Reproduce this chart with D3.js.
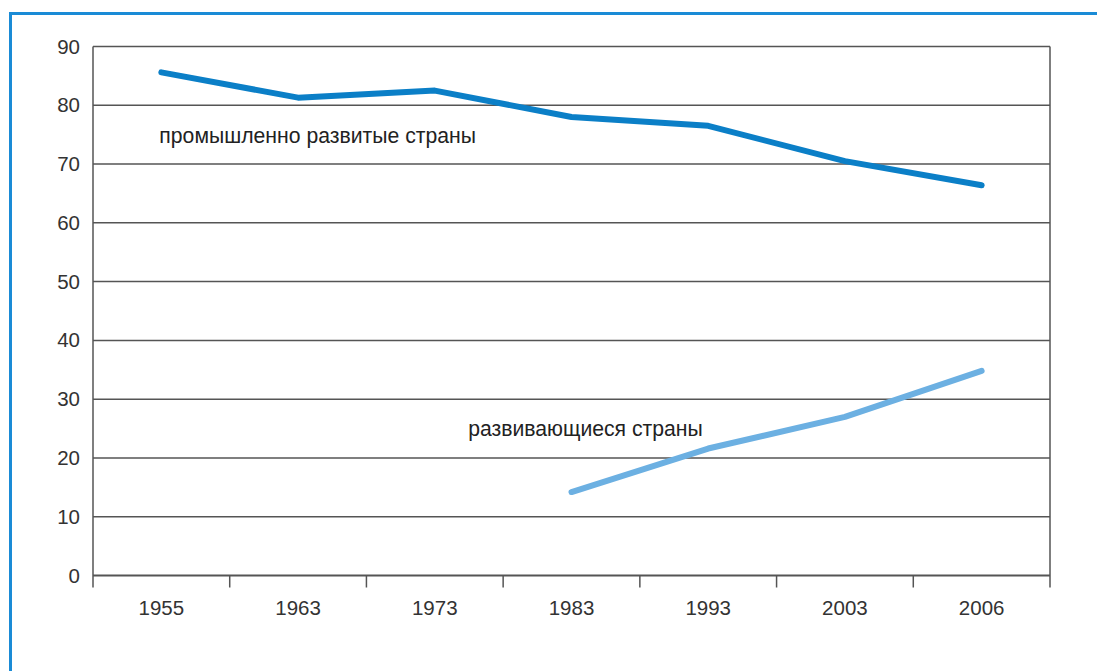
<!DOCTYPE html>
<html>
<head>
<meta charset="utf-8">
<script src="https://cdn.jsdelivr.net/npm/d3@7"></script>
<style>
  body { margin: 0; background: #fff; }
  text { font-family: "Liberation Sans", Arial, sans-serif; }
</style>
</head>
<body>
<script>
// данные
var years = ["1955", "1963", "1973", "1983", "1993", "2003", "2006"];
var developed = [85.6, 81.3, 82.5, 78.0, 76.5, 70.5, 66.4];
var developingYears = ["1983", "1993", "2003", "2006"];
var developing = [14.2, 21.6, 27.0, 34.8];
var yTicks = [0, 10, 20, 30, 40, 50, 60, 70, 80, 90];

var width = 1097, height = 671;
var padding = {left: 93, right: 47, top: 46.5, bottom: 95.5};
var fontSize = 20.5;

var svg = d3.select("body").append("svg")
  .attr("width", width)
  .attr("height", height);

// рамка (открыта справа и снизу)
svg.append("path")
  .attr("d", "M10.5," + height + " V13.5 H" + width)
  .attr("fill", "none")
  .attr("stroke", "#1a8bd6")
  .attr("stroke-width", 3);

var x = d3.scaleBand()
  .domain(years)
  .range([padding.left, width - padding.right]);

var y = d3.scaleLinear()
  .domain([0, 90])
  .range([height - padding.bottom, padding.top]);

var gridColor = "#555";

// горизонтальные линии сетки
svg.append("g").selectAll("line")
  .data(yTicks.filter(function(d){ return d > 0; }))
  .enter().append("line")
  .attr("x1", padding.left)
  .attr("x2", width - padding.right)
  .attr("y1", function(d){ return y(d); })
  .attr("y2", function(d){ return y(d); })
  .attr("stroke", gridColor)
  .attr("stroke-width", 1.5);

// правая граница
svg.append("line")
  .attr("x1", width - padding.right).attr("x2", width - padding.right)
  .attr("y1", y(90)).attr("y2", y(0) + 12)
  .attr("stroke", gridColor).attr("stroke-width", 1.5);

// ось Y
var yAxis = svg.append("g")
  .attr("transform", "translate(" + padding.left + ",0)")
  .call(d3.axisLeft(y).tickValues(yTicks).tickSize(0).tickPadding(13));
yAxis.select(".domain").attr("stroke", gridColor).attr("stroke-width", 1.5)
  .attr("d", "M0," + y(90) + "V" + (y(0) + 12));
yAxis.selectAll("text").attr("font-size", fontSize).attr("fill", "#333")
  .attr("font-family", "Liberation Sans, Arial, sans-serif");

// ось X: деления на границах полос
var xAxis = svg.append("g")
  .attr("transform", "translate(0," + y(0) + ")");
xAxis.append("line")
  .attr("x1", padding.left).attr("x2", width - padding.right)
  .attr("stroke", gridColor).attr("stroke-width", 2);
xAxis.selectAll(".tick")
  .data(years.slice(1))
  .enter().append("line")
  .attr("x1", function(d){ return x(d); })
  .attr("x2", function(d){ return x(d); })
  .attr("y1", 0).attr("y2", 12)
  .attr("stroke", gridColor).attr("stroke-width", 1.5);
xAxis.selectAll(".lbl")
  .data(years)
  .enter().append("text")
  .attr("x", function(d){ return x(d) + x.bandwidth() / 2; })
  .attr("y", 39)
  .attr("text-anchor", "middle")
  .attr("font-size", fontSize)
  .attr("fill", "#333")
  .text(function(d){ return d; });

var line = d3.line()
  .x(function(d){ return x(d[0]) + x.bandwidth() / 2; })
  .y(function(d){ return y(d[1]); });

svg.append("path")
  .datum(d3.zip(years, developed))
  .attr("d", line)
  .attr("fill", "none")
  .attr("stroke", "#0b7fc7")
  .attr("stroke-width", 6)
  .attr("stroke-linecap", "round")
  .attr("stroke-linejoin", "round");

svg.append("path")
  .datum(d3.zip(developingYears, developing))
  .attr("d", line)
  .attr("fill", "none")
  .attr("stroke", "#6cb0e2")
  .attr("stroke-width", 6)
  .attr("stroke-linecap", "round")
  .attr("stroke-linejoin", "round");

// подписи
svg.append("text")
  .attr("x", x("1955") - 2 + x.bandwidth() / 2)
  .attr("y", y(74) + 2)
  .attr("font-size", 21.2).attr("fill", "#222")
  .text("промышленно развитые страны");

svg.append("text")
  .attr("x", x("1983") - 35)
  .attr("y", y(25) + 7)
  .attr("font-size", 21.2).attr("fill", "#222")
  .text("развивающиеся страны");
</script>
</body>
</html>
